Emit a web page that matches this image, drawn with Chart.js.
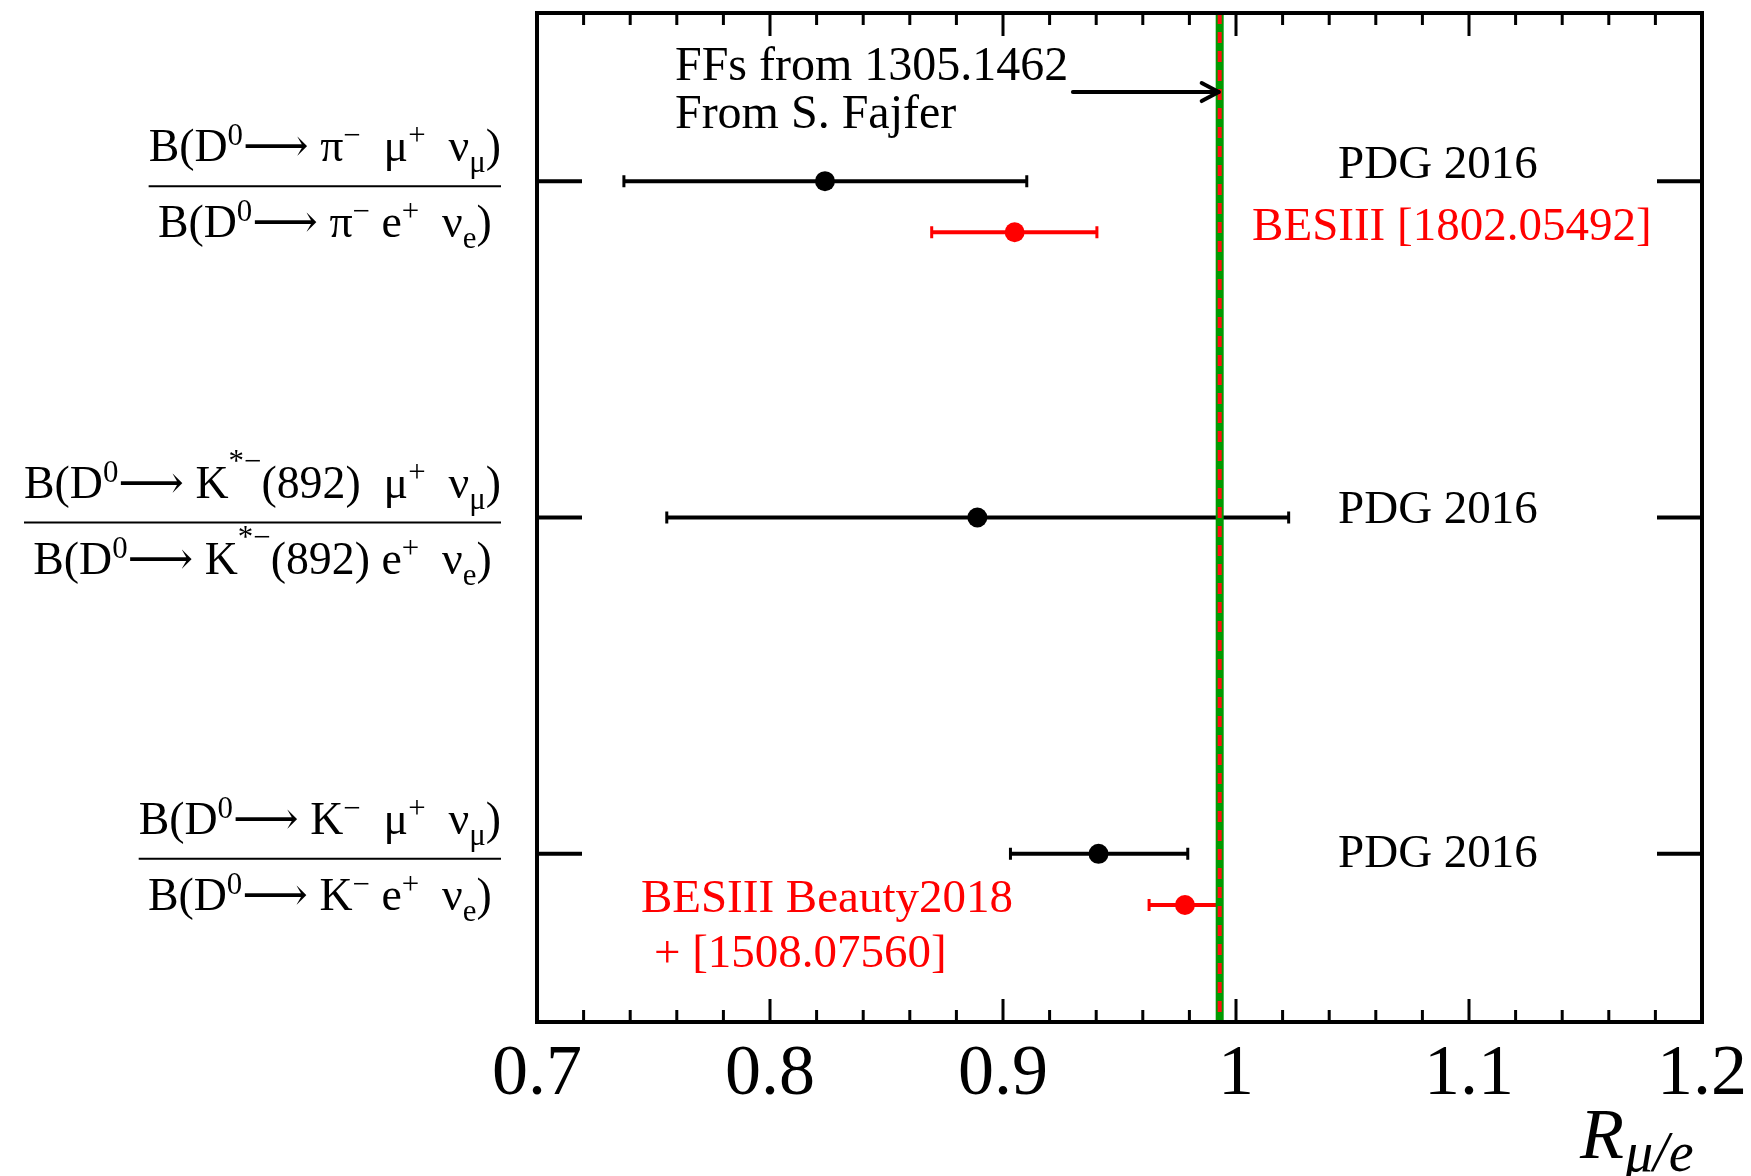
<!DOCTYPE html>
<html>
<head>
<meta charset="utf-8">
<script src="https://cdn.jsdelivr.net/npm/chart.js@4.4.1/dist/chart.umd.min.js"></script>
<style>
html,body{margin:0;padding:0;background:#ffffff;}
canvas{display:block;}
</style>
</head>
<body>
<canvas id="c" width="1751" height="1176"></canvas>
<script>
// ---------------- DATA ----------------
const categories = ['D0 -> pi', 'D0 -> K*(892)', 'D0 -> K'];
const numeratorLabels = [
  'B(D^{0}⟶ π^{−}  μ^{+}  ν_{μ})',
  'B(D^{0}⟶ K^^{*−}(892)  μ^{+}  ν_{μ})',
  'B(D^{0}⟶ K^{−}  μ^{+}  ν_{μ})'
];
const denominatorLabels = [
  'B(D^{0}⟶ π^{−} e^{+}  ν_{e})',
  'B(D^{0}⟶ K^^{*−}(892) e^{+}  ν_{e})',
  'B(D^{0}⟶ K^{−} e^{+}  ν_{e})'
];
// PDG 2016 (black)
const pdgValue = [0.8236, 0.8890, 0.9410];
const pdgLow   = [0.7373, 0.7557, 0.9032];
const pdgHigh  = [0.9102, 1.0226, 0.9793];
// BESIII (red) : rows 0 and 2
const besRow   = [0, 2];
const besValue = [0.9050, 0.9781];
const besLow   = [0.8694, 0.9627];
const besHigh  = [0.9403, 0.9927];
// SM prediction (form factors from 1305.1462)
const smPrediction = 0.9930;
// axis
const xMin = 0.7, xMax = 1.2, xMajorStep = 0.1, xMinorStep = 0.02;
const yMin = 0, yMax = 3;
const annotationTexts = ['FFs from 1305.1462', 'From S. Fajfer', 'PDG 2016', 'BESIII [1802.05492]',
  'PDG 2016', 'PDG 2016', 'BESIII Beauty2018', '+ [1508.07560]'];

// ---------------- LAYOUT / STYLE ----------------
const SERIF = '"Liberation Serif", "DejaVu Serif", serif';
const BES_OFFSET = 0.152;
const annotationLayout = [
  {x: 0.7592, y: 0.199, color: '#000', size: 48},
  {x: 0.7592, y: 0.342, color: '#000', size: 48},
  {x: 1.0438, y: 0.4906, color: '#000', size: 47},
  {x: 1.0069, y: 0.675, color: '#ff0000', size: 47},
  {x: 1.0438, y: 1.5165, color: '#000', size: 47},
  {x: 1.0438, y: 2.539, color: '#000', size: 47},
  {x: 0.7446, y: 2.673, color: '#ff0000', size: 47},
  {x: 0.7502, y: 2.837, color: '#ff0000', size: 47}
];
const arrowLayout = {x0: 0.9300, x1: smPrediction, y: 0.235};

function rowCenter(i) { return i + 0.5; }

// ---------------- PLUGIN ----------------
function parseMarkup(str) {
  const segs = [];
  let i = 0, buf = '';
  const flush = () => { if (buf) { segs.push({t: buf, m: 'n'}); buf = ''; } };
  while (i < str.length) {
    if (str.startsWith('^^{', i) || str.startsWith('^{', i) || str.startsWith('_{', i)) {
      flush();
      let mode, start;
      if (str.startsWith('^^{', i)) { mode = 'sup2'; start = i + 3; }
      else if (str[i] === '^') { mode = 'sup'; start = i + 2; }
      else { mode = 'sub'; start = i + 2; }
      const end = str.indexOf('}', start);
      segs.push({t: str.slice(start, end), m: mode});
      i = end + 1;
    } else { buf += str[i]; i++; }
  }
  flush();
  return segs;
}
const MAIN_SIZE = 46, SMALL_SIZE = 31;
function segFont(m) { return (m === 'n' ? MAIN_SIZE : SMALL_SIZE) + 'px ' + SERIF; }
function segDy(m) { return m === 'sup' ? -16 : (m === 'sup2' ? -27 : (m === 'sub' ? 11 : 0)); }
function measureMarkup(ctx, str) {
  let w = 0;
  for (const s of parseMarkup(str)) { ctx.font = segFont(s.m); w += ctx.measureText(s.t).width; }
  return w;
}
function drawMarkup(ctx, str, x, y, sx) {
  ctx.save();
  ctx.translate(x, y);
  ctx.scale(sx, 1);
  let cx = 0;
  ctx.textBaseline = 'alphabetic';
  ctx.textAlign = 'left';
  for (const s of parseMarkup(str)) {
    ctx.font = segFont(s.m);
    ctx.fillText(s.t, cx, segDy(s.m));
    cx += ctx.measureText(s.t).width;
  }
  ctx.restore();
}

const physPlugin = {
  id: 'phys',
  beforeDatasetsDraw(chart) {
    const ctx = chart.ctx, xs = chart.scales.x;
    chart.data.datasets.forEach((ds, di) => {
      const meta = chart.getDatasetMeta(di);
      meta.data.forEach((pt, k) => {
        const xl = xs.getPixelForValue(ds.errLow[k]);
        const xh = xs.getPixelForValue(ds.errHigh[k]);
        const py = pt.y;
        ctx.save();
        ctx.strokeStyle = ds.borderColor;
        ctx.lineWidth = 4;
        ctx.beginPath(); ctx.moveTo(xl, py); ctx.lineTo(xh, py); ctx.stroke();
        ctx.lineWidth = 3;
        ctx.beginPath();
        ctx.moveTo(xl, py - 6); ctx.lineTo(xl, py + 6);
        ctx.moveTo(xh, py - 6); ctx.lineTo(xh, py + 6);
        ctx.stroke();
        ctx.restore();
      });
    });
  },
  afterDatasetsDraw(chart) {
    const ctx = chart.ctx, xs = chart.scales.x, ys = chart.scales.y, a = chart.chartArea;
    // SM line: green with red dashes
    const sx = xs.getPixelForValue(smPrediction);
    ctx.save();
    ctx.strokeStyle = '#009a00'; ctx.lineWidth = 8;
    ctx.beginPath(); ctx.moveTo(sx, a.top); ctx.lineTo(sx, a.bottom); ctx.stroke();
    ctx.strokeStyle = '#ff1010'; ctx.lineWidth = 4; ctx.setLineDash([11, 8]);
    ctx.beginPath(); ctx.moveTo(sx, a.top); ctx.lineTo(sx, a.bottom); ctx.stroke();
    ctx.restore();

    // frame
    ctx.save();
    ctx.strokeStyle = '#000'; ctx.lineWidth = 4;
    ctx.strokeRect(a.left, a.top, a.right - a.left, a.bottom - a.top);
    // x ticks (inward, top and bottom)
    ctx.lineWidth = 3;
    const nMinor = Math.round((xMax - xMin) / xMinorStep);
    const perMajor = Math.round(xMajorStep / xMinorStep);
    ctx.beginPath();
    for (let i = 1; i < nMinor; i++) {
      const v = xMin + i * xMinorStep;
      const px = xs.getPixelForValue(v);
      const len = (i % perMajor === 0) ? 23 : 12;
      ctx.moveTo(px, a.bottom); ctx.lineTo(px, a.bottom - len);
      ctx.moveTo(px, a.top); ctx.lineTo(px, a.top + len);
    }
    ctx.stroke();
    // y ticks at category rows
    ctx.lineWidth = 4;
    ctx.beginPath();
    categories.forEach((c, i) => {
      const py = ys.getPixelForValue(rowCenter(i));
      ctx.moveTo(a.left, py); ctx.lineTo(a.left + 45, py);
      ctx.moveTo(a.right, py); ctx.lineTo(a.right - 45, py);
    });
    ctx.stroke();
    ctx.restore();

    // annotations
    ctx.save();
    ctx.textBaseline = 'alphabetic'; ctx.textAlign = 'left';
    annotationTexts.forEach((t, i) => {
      const L = annotationLayout[i];
      ctx.font = L.size + 'px ' + SERIF;
      ctx.fillStyle = L.color;
      ctx.fillText(t, xs.getPixelForValue(L.x), ys.getPixelForValue(L.y));
    });
    ctx.restore();

    // arrow
    ctx.save();
    const ax0 = xs.getPixelForValue(arrowLayout.x0), ax1 = xs.getPixelForValue(arrowLayout.x1) - 1;
    const ay = ys.getPixelForValue(arrowLayout.y);
    ctx.strokeStyle = '#000'; ctx.lineWidth = 4; ctx.lineCap = 'round'; ctx.lineJoin = 'round';
    ctx.beginPath(); ctx.moveTo(ax0, ay); ctx.lineTo(ax1, ay); ctx.stroke();
    ctx.beginPath(); ctx.moveTo(ax1 - 17, ay - 9); ctx.lineTo(ax1, ay); ctx.lineTo(ax1 - 17, ay + 9); ctx.stroke();
    ctx.restore();

    // y category labels (fractions)
    ctx.save();
    ctx.fillStyle = '#000'; ctx.strokeStyle = '#000';
    const widest = Math.max(...numeratorLabels.map(s => measureMarkup(ctx, s)),
                            ...denominatorLabels.map(s => measureMarkup(ctx, s)));
    const hs = 477 / widest;
    const rightEdge = a.left - 36;
    categories.forEach((c, i) => {
      const py = ys.getPixelForValue(rowCenter(i));
      const wn = measureMarkup(ctx, numeratorLabels[i]) * hs;
      const wd = measureMarkup(ctx, denominatorLabels[i]) * hs;
      const wb = Math.max(wn, wd);
      const barY = py + 5;
      const cx = rightEdge - wb / 2;
      ctx.lineWidth = 2;
      ctx.beginPath(); ctx.moveTo(rightEdge - wb, barY); ctx.lineTo(rightEdge, barY); ctx.stroke();
      drawMarkup(ctx, numeratorLabels[i], cx - wn / 2, barY - 25, hs);
      drawMarkup(ctx, denominatorLabels[i], cx - wd / 2, barY + 51, hs);
    });
    ctx.restore();

    // x axis title R_{mu/e}
    ctx.save();
    ctx.fillStyle = '#000'; ctx.textBaseline = 'alphabetic'; ctx.textAlign = 'left';
    ctx.font = 'italic 72px ' + SERIF;
    const rx = a.right - 122, ry = a.bottom + 136;
    ctx.fillText('R', rx, ry);
    const rw = ctx.measureText('R').width;
    ctx.font = 'italic 56px ' + SERIF;
    ctx.fillText('μ/e', rx + rw + 1, ry + 13);
    ctx.restore();
  }
};

// ---------------- CHART ----------------
new Chart(document.getElementById('c'), {
  type: 'scatter',
  data: {
    datasets: [
      {
        label: 'PDG 2016',
        data: pdgValue.map((v, i) => ({x: v, y: rowCenter(i)})),
        errLow: pdgLow, errHigh: pdgHigh,
        backgroundColor: '#000000', borderColor: '#000000',
        pointRadius: 10, pointBorderWidth: 0, pointHoverRadius: 10
      },
      {
        label: 'BESIII',
        data: besValue.map((v, j) => ({x: v, y: rowCenter(besRow[j]) + BES_OFFSET})),
        errLow: besLow, errHigh: besHigh,
        backgroundColor: '#ff0000', borderColor: '#ff0000',
        pointRadius: 10, pointBorderWidth: 0, pointHoverRadius: 10
      }
    ]
  },
  options: {
    responsive: false,
    animation: false,
    devicePixelRatio: 1,
    events: [],
    layout: {padding: {left: 0, top: 13, right: 49, bottom: 0}},
    plugins: {legend: {display: false}, tooltip: {enabled: false}},
    scales: {
      x: {
        type: 'linear', position: 'bottom', min: xMin, max: xMax,
        grid: {display: false, drawTicks: false},
        border: {display: false},
        ticks: {
          stepSize: xMajorStep, color: '#000', padding: 10,
          font: {family: SERIF, size: 72},
          maxRotation: 0, autoSkip: false,
          callback: (v) => String(+Number(v).toFixed(2))
        },
        afterFit(s) { s.height = 154; s.paddingLeft = 0; s.paddingRight = 0; }
      },
      y: {
        type: 'linear', position: 'left', min: yMin, max: yMax, reverse: true,
        grid: {display: false, drawTicks: false},
        border: {display: false},
        ticks: {display: false},
        afterFit(s) { s.width = 537; }
      }
    }
  },
  plugins: [physPlugin]
});
</script>
</body>
</html>
